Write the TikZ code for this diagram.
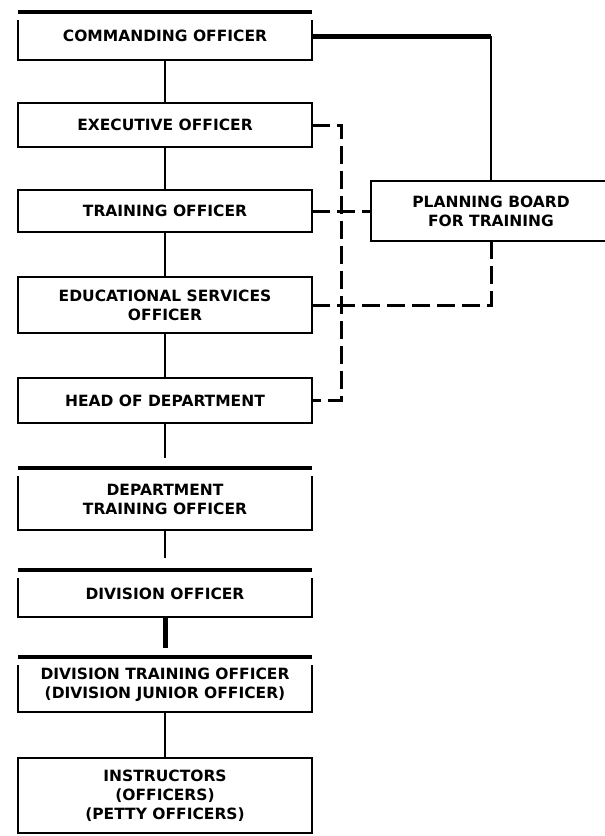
\documentclass[tikz,border=0pt]{standalone}
\usepackage{fontspec}
\setmainfont{DejaVu Sans}
\usetikzlibrary{positioning}
\tikzstyle{block} = [draw, rectangle, line width=2.2pt,
    minimum width=294pt, align=center, outer sep=0pt, inner sep=2pt,
    font=\bfseries\fontsize{15.5}{19}\selectfont]
\tikzstyle{barblock} = [rectangle, minimum width=294pt, align=center,
    outer sep=0pt, inner sep=2pt, font=\bfseries\fontsize{15.5}{19}\selectfont]
\tikzstyle{link} = [line width=2.6pt]
\tikzstyle{heavylink} = [line width=5pt]
\tikzstyle{dashlink} = [line width=3pt, dash pattern=on 18pt off 7pt]
\tikzstyle{bar} = [line width=4.5pt]
\tikzstyle{barside} = [line width=2.2pt]

\begin{document}
\begin{tikzpicture}[x=1pt, y=-1pt]
    \useasboundingbox (0,0) rectangle (605,836);
    % We start by placing the blocks
    \node [barblock, minimum height=48pt] (co) at (165,36) {COMMANDING OFFICER};
    \node [block, minimum height=44pt] (xo) [below=43pt of co] {EXECUTIVE OFFICER};
    \node [block, minimum height=42pt] (to) [below=43pt of xo] {TRAINING OFFICER};
    \node [block, minimum height=56pt] (eso) [below=45pt of to] {EDUCATIONAL SERVICES \\ OFFICER};
    \node [block, minimum height=45pt] (hod) [below=45pt of eso] {HEAD OF DEPARTMENT};
    \node [barblock, minimum height=62pt] (dto) [below=45pt of hod] {DEPARTMENT \\ TRAINING OFFICER};
    \node [barblock, minimum height=47pt] (divo) [below=40pt of dto] {DIVISION OFFICER};
    \node [barblock, minimum height=55pt] (dtrn) [below=40pt of divo] {DIVISION TRAINING OFFICER \\ (DIVISION JUNIOR OFFICER)};
    \node [block, minimum height=75pt] (instr) [below=46pt of dtrn] {INSTRUCTORS \\ (OFFICERS) \\ (PETTY OFFICERS)};
    \node [block, minimum width=240pt, minimum height=60pt] (board) [right=59pt of to] {PLANNING BOARD \\ FOR TRAINING};

    % boxes with a heavy bar on top
    \foreach \n in {co,dto,divo,dtrn} {
        \draw [bar] (\n.north west) -- (\n.north east);
        \draw [barside] ([yshift=-8pt]\n.north west) -- (\n.south west)
            -- (\n.south east) -- ([yshift=-8pt]\n.north east);
    }

    % Once the nodes are placed, connecting them is easy.
    \draw [link] (co) -- (xo);
    \draw [link] (xo) -- (to);
    \draw [link] (to) -- (eso);
    \draw [link] (eso) -- (hod);
    \draw [link, shorten >=10pt] (hod) -- (dto);
    \draw [link, shorten >=12pt] (dto) -- (divo);
    \draw [heavylink, shorten >=9pt] (divo) -- (dtrn);
    \draw [link] (dtrn) -- (instr);

    \coordinate (bend) at (co.east -| board.north);
    \draw [heavylink] (co.east) -- (bend);
    \draw [link] (bend) -- (board.north);

    \draw [dashlink] (xo.east) -| ([xshift=29pt]hod.east) -- (hod.east);
    \draw [dashlink] (to.east) -- (board.west);
    \draw [dashlink] (eso.east) -| (board.south);
\end{tikzpicture}
\end{document}
